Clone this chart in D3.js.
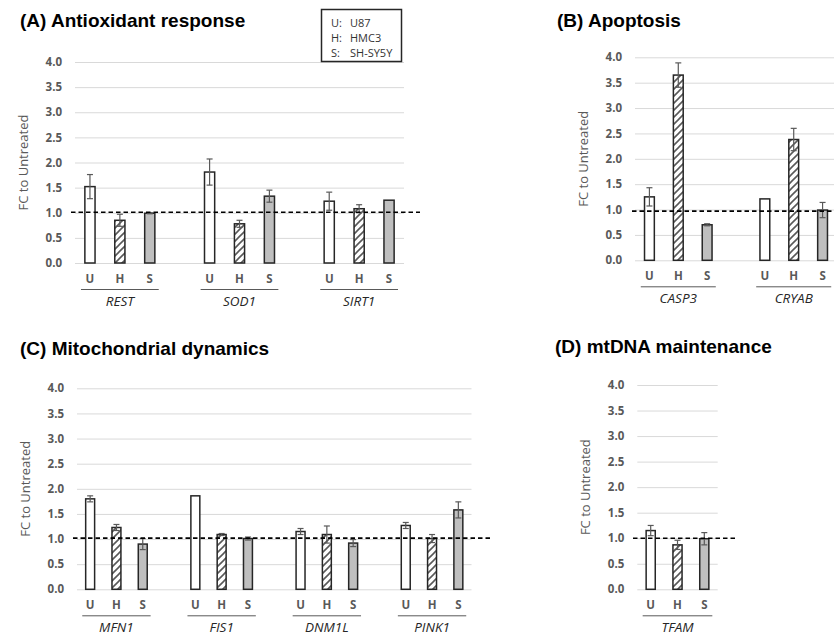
<!DOCTYPE html>
<html>
<head>
<meta charset="utf-8">
<script src="https://cdn.jsdelivr.net/npm/d3@7"></script>
<style>
  body { margin: 0; background: #fff; }
  svg { display: block; font-family: "Open Sans", sans-serif; }
</style>
</head>
<body>
<svg id="chart" width="834" height="636"></svg>
<script>
// cell lines + legend
const cellLines = ["U", "H", "S"];
const legendKeys = ["U:", "H:", "S:"];
const legendNames = ["U87", "HMC3", "SH-SY5Y"];
const yTicks = [0, 0.5, 1, 1.5, 2, 2.5, 3, 3.5, 4];

// (A) antioxidant response
const genesA = ["REST", "SOD1", "SIRT1"];
const meanA_U = [1.52, 1.81, 1.23];
const meanA_H = [0.85, 0.78, 1.08];
const meanA_S = [0.99, 1.33, 1.25];
const errA_U = [0.24, 0.26, 0.18];
const errA_H = [0.12, 0.07, 0.08];
const errA_S = [0.01, 0.12, 0];

// (B) apoptosis
const genesB = ["CASP3", "CRYAB"];
const meanB_U = [1.25, 1.21];
const meanB_H = [3.65, 2.38];
const meanB_S = [0.70, 0.99];
const errB_U = [0.18, 0];
const errB_H = [0.24, 0.22];
const errB_S = [0.02, 0.15];

// (C) mitochondrial dynamics
const genesC = ["MFN1", "FIS1", "DNM1L", "PINK1"];
const meanC_U = [1.80, 1.86, 1.15, 1.27];
const meanC_H = [1.23, 1.09, 1.09, 1.01];
const meanC_S = [0.90, 1.01, 0.92, 1.58];
const errC_U = [0.06, 0, 0.06, 0.06];
const errC_H = [0.06, 0.02, 0.17, 0.08];
const errC_S = [0.11, 0.03, 0.07, 0.16];

// (D) mtDNA maintenance
const genesD = ["TFAM"];
const meanD_U = [1.15];
const meanD_H = [0.87];
const meanD_S = [0.99];
const errD_U = [0.10];
const errD_H = [0.09];
const errD_S = [0.12];

const svg = d3.select("#chart");

// hatch for HMC3 bars
const defs = svg.append("defs");
const pat = defs.append("pattern")
    .attr("id", "hatch")
    .attr("patternUnits", "userSpaceOnUse")
    .attr("width", 7).attr("height", 7);
pat.append("rect").attr("width", 7).attr("height", 7).attr("fill", "#fff");
pat.append("path")
    .attr("d", "M0,7 L7,0 M-2,2 L2,-2 M5,9 L9,5")
    .attr("stroke", "#595959").attr("stroke-width", 1.6);

const fills = { U: "#fff", H: "url(#hatch)", S: "#bfbfbf" };

function drawPanel(p) {
    // slots: U H S per gene with one empty slot between genes
    const slots = [];
    p.genes.forEach((g, i) => {
        if (i > 0) slots.push("gap" + i);
        cellLines.forEach(c => slots.push(g + "|" + c));
    });
    const x = d3.scaleBand().domain(slots).range([p.left, p.right]);
    const y = d3.scaleLinear().domain([0, 4]).range([p.y0, p.y4]);
    const step = x.step();
    const bw = step * 0.34;

    const g = svg.append("g");

    // y axis with gridlines
    const yAx = g.append("g")
        .attr("transform", "translate(" + p.left + ",0)")
        .call(d3.axisLeft(y).tickValues(yTicks).tickFormat(d3.format(".1f"))
            .tickSize(-(p.right - p.left)).tickPadding(13));
    yAx.select(".domain").remove();
    yAx.selectAll("line").attr("stroke", "#d9d9d9").attr("stroke-width", 1);
    yAx.selectAll("text")
        .attr("fill", "#595959")
        .style("font-size", "11.5px")
        .style("font-weight", "bold")
        .style("font-family", "'Open Sans', sans-serif");

    // y title
    g.append("text")
        .attr("transform", "translate(" + (p.left - 52) + "," + ((p.y0 + p.y4) / 2) + ") rotate(-90)")
        .attr("text-anchor", "middle")
        .attr("dominant-baseline", "central")
        .attr("fill", "#595959")
        .style("font-size", "13px")
        .text("FC to Untreated");

    // x axis: U / H / S
    const xAx = g.append("g")
        .attr("transform", "translate(0," + p.y0 + ")")
        .call(d3.axisBottom(x).tickSize(0).tickPadding(12)
            .tickFormat(d => d.startsWith("gap") ? "" : d.split("|")[1]));
    xAx.select(".domain").remove();
    xAx.selectAll("text")
        .attr("fill", "#595959")
        .style("font-size", "11.5px")
        .style("font-weight", "bold")
        .style("font-family", "'Open Sans', sans-serif");

    // gene group underline + label
    p.genes.forEach(gene => {
        const cx = x(gene + "|H") + step / 2;
        g.append("line")
            .attr("x1", cx - step * 1.3).attr("x2", cx + step * 1.3)
            .attr("y1", p.y0 + 26.5).attr("y2", p.y0 + 26.5)
            .attr("stroke", "#595959").attr("stroke-width", 1);
        g.append("text")
            .attr("x", cx).attr("y", p.y0 + 37.5)
            .attr("text-anchor", "middle")
            .attr("dominant-baseline", "central")
            .attr("fill", "#262626")
            .style("font-size", "13.5px")
            .style("font-style", "italic")
            .text(gene);
    });

    // bars
    const rows = [];
    p.genes.forEach((gene, i) => {
        cellLines.forEach(c => {
            rows.push({ key: gene + "|" + c, line: c, v: p.means[c][i], e: p.errs[c][i] });
        });
    });

    g.append("g").selectAll("rect")
        .data(rows)
        .enter()
        .append("rect")
        .attr("x", d => x(d.key) + (step - bw) / 2)
        .attr("y", d => y(d.v))
        .attr("width", bw)
        .attr("height", d => y(0) - y(d.v))
        .attr("fill", d => fills[d.line])
        .attr("stroke", "#262626")
        .attr("stroke-width", 1.5);

    // error bars
    const eg = g.append("g").attr("stroke", "#595959").attr("stroke-width", 1.2).attr("fill", "none");
    rows.filter(d => d.e > 0).forEach(d => {
        const cx = x(d.key) + step / 2;
        const top = y(d.v + d.e), bot = y(d.v - d.e);
        eg.append("line").attr("x1", cx).attr("x2", cx).attr("y1", top).attr("y2", bot);
        eg.append("line").attr("x1", cx - 3).attr("x2", cx + 3).attr("y1", top).attr("y2", top);
        eg.append("line").attr("x1", cx - 3).attr("x2", cx + 3).attr("y1", bot).attr("y2", bot);
    });

    // untreated reference line
    g.append("line")
        .attr("x1", p.refX0).attr("x2", p.refX1)
        .attr("y1", y(p.ref)).attr("y2", y(p.ref))
        .attr("stroke", "#000")
        .attr("stroke-width", 1.7)
        .attr("stroke-dasharray", "4.5,3");

    // panel title
    svg.append("text")
        .attr("x", p.tx).attr("y", p.ty)
        .attr("fill", "#000")
        .style("font-family", "'Liberation Sans', Arial, sans-serif")
        .style("font-size", "19px")
        .style("font-weight", "bold")
        .text(p.title);
}

drawPanel({
    title: "(A) Antioxidant response", tx: 20, ty: 27,
    genes: genesA,
    means: { U: meanA_U, H: meanA_H, S: meanA_S },
    errs: { U: errA_U, H: errA_H, S: errA_S },
    left: 75, right: 404, y0: 263, y4: 62,
    ref: 1.01, refX0: 71, refX1: 420
});

drawPanel({
    title: "(B) Apoptosis", tx: 557, ty: 27,
    genes: genesB,
    means: { U: meanB_U, H: meanB_H, S: meanB_S },
    errs: { U: errB_U, H: errB_H, S: errB_S },
    left: 635, right: 837, y0: 260.3, y4: 57.3,
    ref: 0.97, refX0: 632, refX1: 834
});

drawPanel({
    title: "(C) Mitochondrial dynamics", tx: 20, ty: 355,
    genes: genesC,
    means: { U: meanC_U, H: meanC_H, S: meanC_S },
    errs: { U: errC_U, H: errC_H, S: errC_S },
    left: 77, right: 471.5, y0: 589.3, y4: 388.3,
    ref: 1.02, refX0: 73, refX1: 490
});

drawPanel({
    title: "(D) mtDNA maintenance", tx: 555, ty: 353,
    genes: genesD,
    means: { U: meanD_U, H: meanD_H, S: meanD_S },
    errs: { U: errD_U, H: errD_H, S: errD_S },
    left: 637.3, right: 717.7, y0: 589.3, y4: 385,
    ref: 1.0, refX0: 633, refX1: 735
});

// legend box
const leg = svg.append("g");
leg.append("rect")
    .attr("x", 321.5).attr("y", 9.5)
    .attr("width", 80).attr("height", 52)
    .attr("fill", "#fff")
    .attr("stroke", "#262626")
    .attr("stroke-width", 1.5);
legendKeys.forEach((k, i) => {
    const ly = 22.7 + i * 15;
    leg.append("text").attr("x", 331).attr("y", ly)
        .attr("dominant-baseline", "central")
        .attr("fill", "#333").style("font-size", "11px").text(k);
    leg.append("text").attr("x", 350).attr("y", ly)
        .attr("dominant-baseline", "central")
        .attr("fill", "#333").style("font-size", "11px").text(legendNames[i]);
});
</script>
</body>
</html>
